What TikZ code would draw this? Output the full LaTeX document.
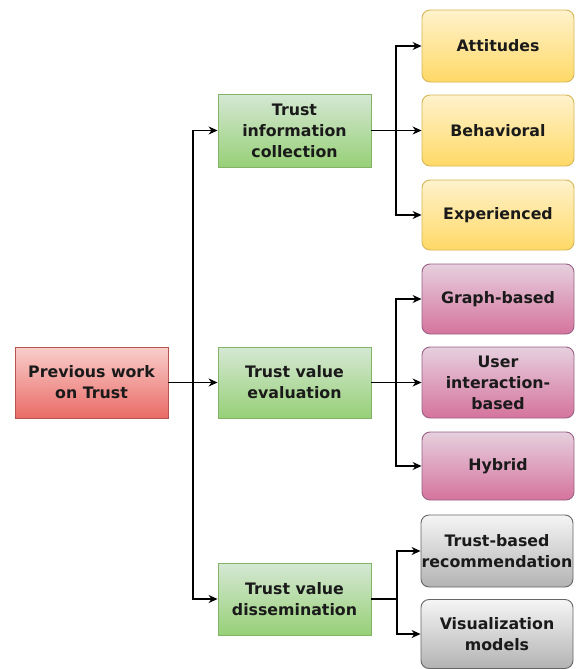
\documentclass[tikz,border=0pt]{standalone}
\usepackage{fontspec}
\setmainfont{DejaVu Sans}
\usetikzlibrary{arrows.meta}
\definecolor{txt}{HTML}{1A1A1A}
\definecolor{redTop}{HTML}{F8CECC}\definecolor{redBot}{HTML}{EA6B66}\definecolor{redLine}{HTML}{B85450}
\definecolor{grnTop}{HTML}{D5E8D4}\definecolor{grnBot}{HTML}{97D077}\definecolor{grnLine}{HTML}{82B366}
\definecolor{ylwTop}{HTML}{FFF2CC}\definecolor{ylwBot}{HTML}{FFD966}\definecolor{ylwLine}{HTML}{D6B656}
\definecolor{pnkTop}{HTML}{E6D0DE}\definecolor{pnkBot}{HTML}{D5739D}\definecolor{pnkLine}{HTML}{996185}
\definecolor{gryTop}{HTML}{F5F5F5}\definecolor{gryBot}{HTML}{B3B3B3}\definecolor{gryLine}{HTML}{666666}
\tikzset{
  box/.style={draw, line width=0.9pt, minimum width=153pt, minimum height=71pt,
    align=center, inner sep=0pt, text=txt,
    font=\bfseries\fontsize{15.8}{21}\selectfont},
  rootbox/.style={box, draw=redLine, top color=redTop, bottom color=redBot},
  midbox/.style={box, draw=grnLine, top color=grnTop, bottom color=grnBot},
  leafbox/.style={box, rounded corners=8pt, minimum width=152pt},
  yelbox/.style={leafbox, draw=ylwLine, top color=ylwTop, bottom color=ylwBot},
  pinkbox/.style={leafbox, draw=pnkLine, top color=pnkTop, bottom color=pnkBot},
  greybox/.style={leafbox, draw=gryLine, top color=gryTop, bottom color=gryBot},
  arr/.style={draw=black, line width=1.2pt, -{Stealth[length=9pt,width=8pt]}},
  ln/.style={draw=black, line width=1.2pt}
}
\begin{document}
\begin{tikzpicture}[x=1pt,y=-1pt]
\useasboundingbox[fill=white] (0,0) rectangle (581,669);

% root
\node[rootbox] (root) at (91.5,382.5) {Previous work\\on Trust};

% three stages
\node[midbox, minimum height=73pt] (g1) at (294.5,130.5) {Trust\\information\\collection};
\node[midbox] (g2) at (294.5,382.5) {Trust value\\evaluation};
\node[midbox, minimum height=72pt] (g3) at (294.5,599) {Trust value\\dissemination};

% collection leaves
\node[yelbox, minimum height=72pt] (y1) at (498,46) {Attitudes};
\node[yelbox] (y2) at (498,130.5) {Behavioral};
\node[yelbox, minimum height=70pt] (y3) at (498,215) {Experienced};

% evaluation leaves
\node[pinkbox, minimum height=70pt] (p1) at (498,299) {Graph-based};
\node[pinkbox] (p2) at (498,382.5) {User\\interaction-\\based};
\node[pinkbox, minimum height=68pt] (p3) at (498,466) {Hybrid};

% dissemination leaves
\node[greybox, minimum height=72pt] (q1) at (497,551) {Trust-based\\recommendation};
\node[greybox, minimum height=69pt] (q2) at (497,634) {Visualization\\models};

% junctions
\coordinate (tj) at (193,382.5);
\coordinate (j1) at (396,130.5);
\coordinate (j2) at (396,382.5);
\coordinate (j3) at (397,599);

% trunk
\draw[arr] (root.east) -- (g2.west);
\draw[arr] (tj) |- (g1.west);
\draw[arr] (tj) |- (g3.west);

% collection branch
\draw[arr] (g1.east) -- (y2.west);
\draw[arr] (j1) |- (y1.west);
\draw[arr] (j1) |- (y3.west);

% evaluation branch
\draw[arr] (g2.east) -- (p2.west);
\draw[arr] (j2) |- (p1.west);
\draw[arr] (j2) |- (p3.west);

% dissemination branch
\draw[ln] (g3.east) -- (j3);
\draw[arr] (j3) |- (q1.west);
\draw[arr] (j3) |- (q2.west);
\end{tikzpicture}
\end{document}
